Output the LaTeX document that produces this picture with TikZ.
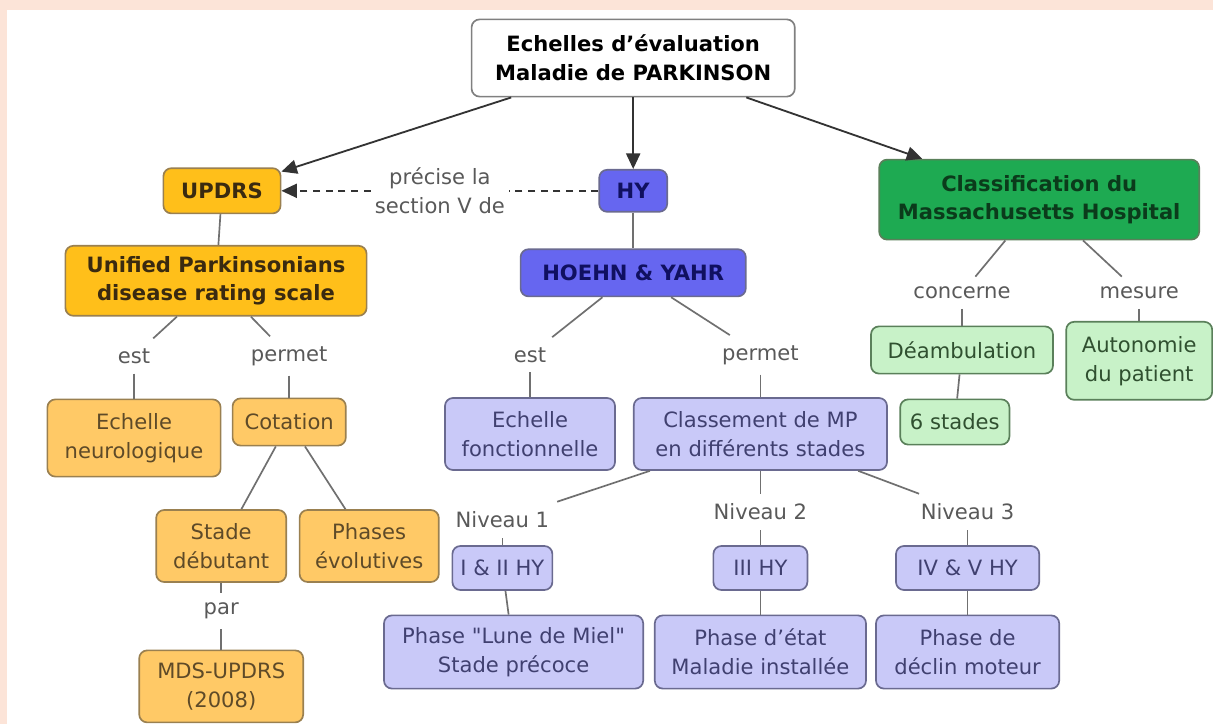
\documentclass[tikz,border=0pt]{standalone}
\usepackage{fontspec}
\setmainfont{DejaVu Sans}
\usepackage{xcolor}
\definecolor{peach}{HTML}{FCE4D8}
\definecolor{orgdark}{HTML}{FFBF1A}
\definecolor{orglight}{HTML}{FFC966}
\definecolor{orgline}{HTML}{9A8050}
\definecolor{orgtext}{HTML}{3A2A10}
\definecolor{orgsoft}{HTML}{5E4A28}
\definecolor{bludark}{HTML}{6666F0}
\definecolor{blulight}{HTML}{C9C9F8}
\definecolor{bluline}{HTML}{6A6A90}
\definecolor{blutext}{HTML}{101060}
\definecolor{blusoft}{HTML}{404070}
\definecolor{grndark}{HTML}{1EAA52}
\definecolor{grnlight}{HTML}{C8F2C8}
\definecolor{grnline}{HTML}{5A805A}
\definecolor{grntext}{HTML}{0B3B1B}
\definecolor{grnsoft}{HTML}{305030}
\definecolor{linkgray}{HTML}{707070}
\usepackage{tikz}
\usetikzlibrary{
  arrows.meta,
  positioning
}

\begin{document}
\begin{tikzpicture}[
  node distance=1cm, on grid,
  base/.style={rectangle, rounded corners=0.2cm, line width=1.2pt, align=center, inner xsep=4pt, inner ysep=2pt, font=\fontsize{15}{20.5}\selectfont},
  rootbox/.style={base, draw=gray, fill=white, font=\fontsize{15}{20.5}\selectfont\bfseries},
  orgbox/.style={base, draw=orgline, fill=orgdark, text=orgtext, font=\fontsize{15}{20.5}\selectfont\bfseries},
  orgitem/.style={base, draw=orgline, fill=orglight, text=orgsoft},
  blubox/.style={base, draw=bluline, fill=bludark, text=blutext, font=\fontsize{15}{20.5}\selectfont\bfseries},
  bluitem/.style={base, draw=bluline, fill=blulight, text=blusoft},
  grnbox/.style={base, draw=grnline, fill=grndark, text=grntext, font=\fontsize{15}{20.5}\selectfont\bfseries},
  grnitem/.style={base, draw=grnline, fill=grnlight, text=grnsoft},
  lbl/.style={align=center, text=black!65, inner sep=7pt, font=\fontsize{15}{20.5}\selectfont},
  link/.style={linkgray, line width=1.2pt},
  arr/.style={-{Triangle[length=11pt, width=10pt]}, line width=1.3pt, black!80},
]

% background
\fill[peach] (0,0) rectangle (30.325,-18.1);
\fill[white] (0.18,-0.24) rectangle (30.325,-18.1);
\useasboundingbox (0,0) rectangle (30.325,-18.1);

% Root
\node[rootbox, minimum width=8.08cm, minimum height=1.93cm] (root) at (15.83,-1.45) {Echelles d'évaluation\\Maladie de PARKINSON};

% 3 branches
\node[blubox, below=3.32cm of root, minimum width=1.7cm, minimum height=1.05cm] (hy) {HY};
\node[orgbox, left=10.28cm of hy, minimum width=2.93cm, minimum height=1.13cm] (updrs) {UPDRS};
\node[grnbox, below right=0.22cm and 10.15cm of hy, minimum width=8cm, minimum height=2cm] (mgh) {Classification du\\Massachusetts Hospital};

% UPDRS side
\node[orgbox, below left=2.25cm and 0.15cm of updrs, minimum width=7.53cm, minimum height=1.75cm] (unified) {Unified Parkinsonians\\disease rating scale};
\node[lbl, below left=1.88cm and 2.05cm of unified] (est1) {est};
\node[lbl, below right=1.88cm and 1.83cm of unified] (permet1) {permet};
\node[orgitem, below=2.05cm of est1, minimum width=4.33cm, minimum height=1.93cm] (neuro) {Echelle\\neurologique};
\node[orgitem, below=1.65cm of permet1, minimum width=2.83cm, minimum height=1.18cm] (cotation) {Cotation};
\node[orgitem, below left=3.1cm and 1.7cm of cotation, minimum width=3.25cm, minimum height=1.8cm] (stade) {Stade\\débutant};
\node[orgitem, below right=3.1cm and 2cm of cotation, minimum width=3.48cm, minimum height=1.8cm] (phases) {Phases\\évolutives};
\node[lbl, below=1.63cm of stade] (par) {par};
\node[orgitem, below=1.88cm of par, minimum width=4.1cm, minimum height=1.8cm] (mds) {MDS-UPDRS\\(2008)};

% HY side
\node[blubox, below=2.05cm of hy, minimum width=5.63cm, minimum height=1.18cm] (hoehn) {HOEHN \& YAHR};
\node[lbl, below left=2.05cm and 2.58cm of hoehn] (est2) {est};
\node[lbl, below right=2.05cm and 3.18cm of hoehn] (permet2) {permet};
\node[bluitem, below=1.98cm of est2, minimum width=4.25cm, minimum height=1.8cm] (fonct) {Echelle\\fonctionnelle};
\node[bluitem, below=1.98cm of permet2, minimum width=6.33cm, minimum height=1.8cm] (classement) {Classement de MP\\en différents stades};
\node[lbl, below left=2.15cm and 6.45cm of classement] (niv1) {Niveau 1};
\node[lbl, below=1.95cm of classement] (niv2) {Niveau 2};
\node[lbl, below right=1.95cm and 5.18cm of classement] (niv3) {Niveau 3};
\node[bluitem, below=1.2cm of niv1, minimum width=2.5cm, minimum height=1.1cm] (hy12) {I \& II HY};
\node[bluitem, below=1.4cm of niv2, minimum width=2.35cm, minimum height=1.1cm] (hy3) {III HY};
\node[bluitem, below=1.4cm of niv3, minimum width=3.58cm, minimum height=1.1cm] (hy45) {IV \& V HY};
\node[bluitem, below right=2.1cm and 0.28cm of hy12, minimum width=6.48cm, minimum height=1.83cm] (lune) {Phase \textquotedbl Lune de Miel\textquotedbl\\Stade précoce};
\node[bluitem, below=2.1cm of hy3, minimum width=5.28cm, minimum height=1.83cm] (etat) {Phase d'état\\Maladie installée};
\node[bluitem, below=2.1cm of hy45, minimum width=4.58cm, minimum height=1.83cm] (declin) {Phase de\\déclin moteur};

% Massachusetts side
\node[lbl, below left=2.33cm and 1.93cm of mgh] (concerne) {concerne};
\node[lbl, below right=2.33cm and 2.5cm of mgh] (mesure) {mesure};
\node[grnitem, below=1.43cm of concerne, minimum width=4.55cm, minimum height=1.18cm] (deamb) {Déambulation};
\node[grnitem, below=1.7cm of mesure, minimum width=3.65cm, minimum height=1.95cm] (autonomie) {Autonomie\\du patient};
\node[grnitem, below left=1.8cm and 0.18cm of deamb, minimum width=2.73cm, minimum height=1.13cm] (six) {6 stades};

\draw[arr] (root) -- (updrs);
\draw[arr] (root) -- (hy);
\draw[arr] (root) -- (mgh);
\draw[arr, dashed, dash pattern=on 5pt off 4pt] (hy) -- node[lbl, fill=white, inner sep=3pt] {précise la\\section V de} (updrs);

\draw[link] (updrs) -- (unified);
\draw[link] (unified) -- (est1);
\draw[link] (unified) -- (permet1);
\draw[link] (est1) -- (neuro);
\draw[link] (permet1) -- (cotation);
\draw[link] (cotation) -- (stade);
\draw[link] (cotation) -- (phases);
\draw[link] (stade) -- (par);
\draw[link] (par) -- (mds);

\draw[link] (hy) -- (hoehn);
\draw[link] (hoehn) -- (est2);
\draw[link] (hoehn) -- (permet2);
\draw[link] (est2) -- (fonct);
\draw[link] (permet2) -- (classement);
\draw[link] (classement) -- (niv1);
\draw[link] (classement) -- (niv2);
\draw[link] (classement) -- (niv3);
\draw[link] (niv1) -- (hy12);
\draw[link] (niv2) -- (hy3);
\draw[link] (niv3) -- (hy45);
\draw[link] (hy12) -- (lune);
\draw[link] (hy3) -- (etat);
\draw[link] (hy45) -- (declin);

\draw[link] (mgh) -- (concerne);
\draw[link] (mgh) -- (mesure);
\draw[link] (concerne) -- (deamb);
\draw[link] (mesure) -- (autonomie);
\draw[link] (deamb) -- (six);

\end{tikzpicture}
\end{document}
